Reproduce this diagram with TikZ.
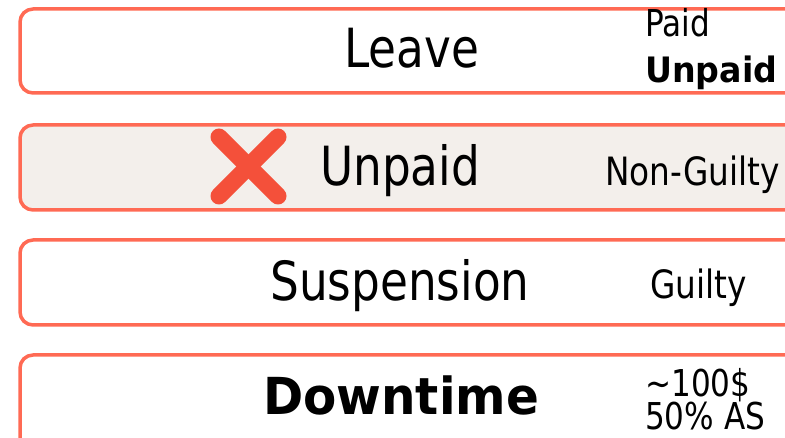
\documentclass[tikz,border=0pt]{standalone}
\usepackage{fontspec}
\setmainfont{DejaVu Sans}[FakeStretch=0.84, BoldFeatures={FakeStretch=0.95}]
\definecolor{boxline}{RGB}{255,106,84}
\definecolor{boxfill}{RGB}{243,239,235}
\definecolor{xred}{RGB}{244,80,58}
\begin{document}
\begin{tikzpicture}[x=1pt,y=-1pt,
  rowbox/.style={draw=boxline, line width=3.5pt, rounded corners=13pt},
  big/.style={anchor=base west, inner sep=0pt, font=\fontsize{54}{60}\selectfont},
  mid/.style={anchor=base west, inner sep=0pt, font=\fontsize{39}{46}\selectfont},
  small/.style={anchor=base west, inner sep=0pt, font=\fontsize{37}{40}\selectfont}]
\useasboundingbox (0,0) rectangle (785,438);
\clip (0,0) rectangle (785,438);
% boxes
\draw[rowbox, fill=white] (20,9) rectangle (820,93);
\draw[rowbox, fill=boxfill] (20,125) rectangle (820,210);
\draw[rowbox, fill=white] (20,240) rectangle (820,325);
\draw[rowbox, fill=white] (20,355) rectangle (820,470);
% row 1
\node[big] (leave) at (344,68) {Leave};
\node[small] (paid) at (645,37) {Paid};
\node[small, font=\fontsize{35}{40}\selectfont\bfseries] (unpaidb) at (645,83) {Unpaid};
% row 2
\draw[xred, line width=17pt, line cap=round] (219,137) -- (278,196);
\draw[xred, line width=17pt, line cap=round] (278,137) -- (219,196);
\node[big] (unpaid) at (320,186) {Unpaid};
\node[mid] (nonguilty) at (605,186) {Non-Guilty};
% row 3
\node[big] (susp) at (270,301) {Suspension};
\node[mid] (guilty) at (650,299) {Guilty};
% row 4
\node[big, font=\fontsize{51}{60}\selectfont\bfseries] (down) at (263,415) {Downtime};
\node[small, font=\fontsize{37}{40}\selectfont] (cost) at (645,396) {\char"223C 100\$};
\node[small, font=\fontsize{37}{40}\selectfont] (as) at (645,430) {50\% AS};
\end{tikzpicture}
\end{document}
